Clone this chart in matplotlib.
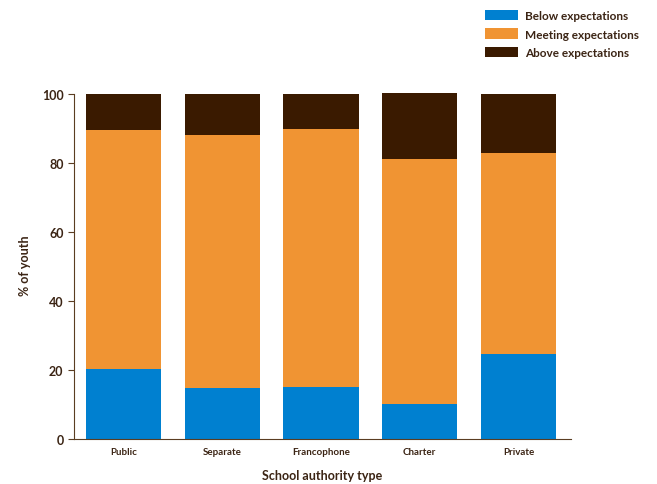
import matplotlib
matplotlib.use("Agg")
import matplotlib.pyplot as plt
import numpy as np

categories = ["Public", "Separate", "Francophone", "Charter", "Private"]
below = [20.3, 14.8, 15.1, 10.1, 24.6]
meeting = [69.3, 73.3, 74.8, 71.1, 58.3]
above = [10.4, 11.9, 10.1, 19.1, 17.1]
series_names = ["Below expectations", "Meeting expectations", "Above expectations"]
yticks = [0, 20, 40, 60, 80, 100]

colors = ["#0080d0", "#f09433", "#3a1a00"]
text_col = "#3b2414"
spine_col = "#5a3d22"

plt.rcParams["font.family"] = ["Lato", "DejaVu Sans"]
plt.rcParams["font.weight"] = "bold"

fig = plt.figure(figsize=(6.57, 4.85), dpi=100)
ax = fig.add_axes([0.1126, 0.0928, 0.7564, 0.718])

x = np.arange(len(categories))
bottom = np.zeros(len(categories))
for vals, name, c in zip([below, meeting, above], series_names, colors):
    ax.bar(x, vals, width=0.76, bottom=bottom, color=c, label=name)
    bottom += np.array(vals)

ax.set_xlim(-0.5, 4.53)
ax.set_ylim(0, 101)
ax.set_yticks(yticks)
ax.set_xticks(x)
ax.set_xticklabels(categories, fontsize=7, fontweight="bold", color=text_col)
ax.tick_params(axis="y", labelsize=9, colors=spine_col, labelcolor=text_col, length=4, direction="out")
ax.tick_params(axis="x", length=0, pad=6)

for s in ["top", "right"]:
    ax.spines[s].set_visible(False)
ax.spines["left"].set_bounds(0, 100)
ax.spines["left"].set_color(spine_col)
ax.spines["bottom"].set_color(spine_col)

ax.set_ylabel("% of youth", fontsize=9, fontweight="bold", color=text_col, labelpad=8)
ax.set_xlabel("School authority type", fontsize=9, fontweight="bold", color=text_col, labelpad=9)

handles, labels = ax.get_legend_handles_labels()
fig.legend(handles, labels, loc="upper left", bbox_to_anchor=(0.7215, 1.0),
           frameon=False, fontsize=8.5, handlelength=2.8, handleheight=1.0,
           labelspacing=0.62, handletextpad=0.6, labelcolor=text_col)

fig.savefig("out.png", dpi=100)
